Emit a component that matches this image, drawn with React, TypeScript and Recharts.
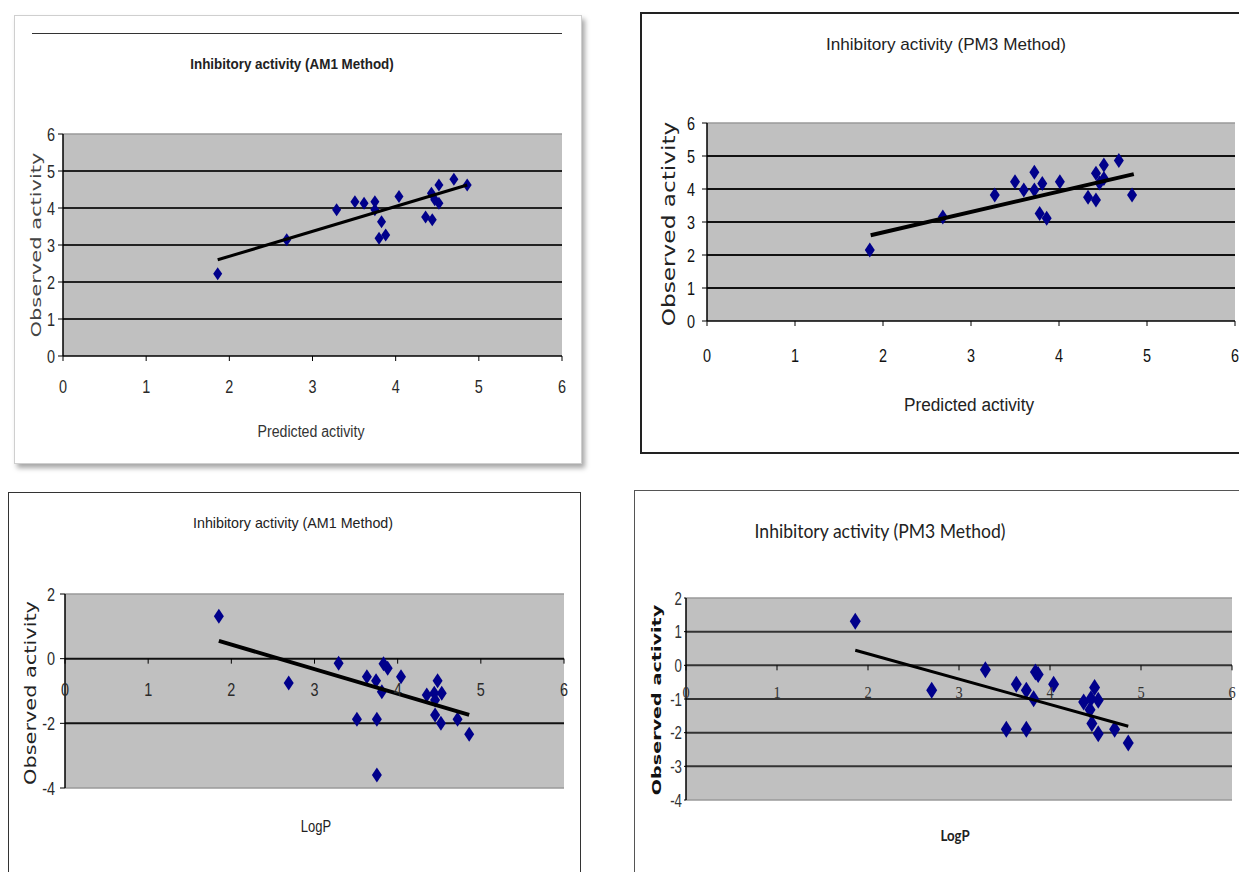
import { useLayoutEffect, useRef, useState } from "react"
import { CartesianGrid, ReferenceLine, Scatter, ScatterChart, XAxis, YAxis } from "recharts"

// AM1 method, observed vs predicted activity
const am1PredX = [1.86, 2.69, 3.29, 3.51, 3.62, 3.75, 3.75, 3.83, 3.8, 3.88, 4.04, 4.36, 4.44, 4.43, 4.47, 4.52, 4.52, 4.7, 4.86]
const am1PredY = [2.22, 3.14, 3.95, 4.17, 4.13, 4.17, 3.95, 3.63, 3.18, 3.27, 4.31, 3.76, 3.68, 4.4, 4.22, 4.13, 4.62, 4.78, 4.62]
const am1PredTrendX = [1.86, 4.86]
const am1PredTrendY = [2.6, 4.62]

// PM3 method, observed vs predicted activity
const pm3PredX = [1.85, 2.68, 3.27, 3.5, 3.6, 3.72, 3.72, 3.81, 3.78, 3.86, 4.01, 4.33, 4.42, 4.42, 4.46, 4.51, 4.51, 4.68, 4.83]
const pm3PredY = [2.15, 3.15, 3.82, 4.22, 3.97, 4.51, 3.97, 4.17, 3.26, 3.11, 4.22, 3.75, 3.67, 4.48, 4.18, 4.73, 4.32, 4.86, 3.82]
const pm3PredTrendX = [1.86, 4.85]
const pm3PredTrendY = [2.6, 4.45]

// AM1 method, observed activity vs LogP
const am1LogPX = [1.85, 2.69, 3.29, 3.83, 3.88, 3.63, 3.74, 3.81, 4.04, 4.48, 4.35, 4.44, 4.53, 4.45, 4.45, 4.52, 4.72, 4.86, 3.51, 3.75, 3.75]
const am1LogPY = [1.31, -0.75, -0.14, -0.16, -0.3, -0.56, -0.68, -1.02, -0.56, -0.68, -1.12, -1.07, -1.07, -1.28, -1.74, -2.0, -1.87, -2.34, -1.87, -1.87, -3.6]
const am1LogPTrendX = [1.85, 4.86]
const am1LogPTrendY = [0.55, -1.74]

// PM3 method, observed activity vs LogP
const pm3LogPX = [1.86, 2.7, 3.29, 3.84, 3.87, 3.63, 3.74, 3.82, 4.04, 4.49, 4.37, 4.45, 4.53, 4.44, 4.46, 4.53, 4.71, 4.86, 3.52, 3.74]
const pm3LogPY = [1.31, -0.74, -0.13, -0.2, -0.27, -0.56, -0.74, -0.99, -0.56, -0.66, -1.09, -0.99, -1.04, -1.32, -1.73, -2.03, -1.9, -2.31, -1.9, -1.9]
const pm3LogPTrendX = [1.86, 4.86]
const pm3LogPTrendY = [0.45, -1.81]

const xTicks = [0, 1, 2, 3, 4, 5, 6]
const predYTicks = [0, 1, 2, 3, 4, 5, 6]
const am1LogPYTicks = [-4, -2, 0, 2]
const pm3LogPYTicks = [-4, -3, -2, -1, 0, 1, 2]

const SANS = "'Liberation Sans', Arial, sans-serif"
const NARROW = "'Liberation Sans Narrow', 'DejaVu Sans Condensed', 'Liberation Sans', sans-serif"
const BLUE = "#00008b"
const PLOT_BG = "#c0c0c0"

const zip = (xs: number[], ys: number[]) => xs.map((x, i) => ({ x, y: ys[i] }))

function FitText({ text, cx, cy, width, size, weight = 400, family = NARROW, color = "#222", rotate = false }: any) {
  const ref = useRef<HTMLSpanElement>(null)
  const [k, setK] = useState(1)
  useLayoutEffect(() => {
    if (ref.current && ref.current.offsetWidth) setK(width / ref.current.offsetWidth)
  }, [width, text])
  return (
    <span
      ref={ref}
      style={{
        position: "absolute",
        left: cx,
        top: cy,
        whiteSpace: "nowrap",
        fontSize: size,
        fontFamily: family,
        fontWeight: weight,
        color,
        lineHeight: 1,
        transform: `translate(-50%, -50%) ${rotate ? "rotate(-90deg)" : ""} scaleX(${k})`,
        transformOrigin: "center",
      }}
    >
      {text}
    </span>
  )
}

const diamond = (w: number, h: number) => (props: any) => {
  const { cx, cy } = props
  if (cx == null || cy == null) return <g />
  return <path d={`M${cx} ${cy - h / 2}L${cx + w / 2} ${cy}L${cx} ${cy + h / 2}L${cx - w / 2} ${cy}Z`} fill={BLUE} />
}

// narrow tick text: squeeze horizontally around the anchor point
function NTick({ x, y, payload, textAnchor, side, font }: any) {
  const f = font
  return (
    <text
      transform={`translate(${x},${y}) scale(${f.sx},1)`}
      textAnchor={textAnchor}
      dy={side === "y" ? "0.355em" : "0.71em"}
      fill={f.fill}
      fontSize={f.fontSize}
      fontFamily={f.fontFamily}
    >
      {payload.value}
    </text>
  )
}

function ZeroTick({ x, y, payload, shift, gap, font }: any) {
  const z = y - shift
  return (
    <g>
      <line x1={x} x2={x} y1={z} y2={z + 5} stroke="#000" strokeWidth={1} />
      <text
        transform={`translate(${x},${z + gap}) scale(${font.sx},1)`}
        textAnchor="middle"
        dy="0.355em"
        fill={font.fill}
        fontSize={font.fontSize}
        fontFamily={font.fontFamily}
      >
        {payload.value}
      </text>
    </g>
  )
}

function ScatterPanel(p: any) {
  const yw = 50
  const mt = 10
  const mr = 12
  const xh = 50
  const pw = p.box.r - p.box.l
  const ph = p.box.b - p.box.t
  const [ylo, yhi] = p.yDomain
  const zeroShift = (ph * (0 - ylo)) / (yhi - ylo)

  return (
    <div style={{ position: "absolute", left: p.box.l - yw, top: p.box.t - mt }}>
      <ScatterChart width={pw + yw + mr} height={ph + mt + xh} margin={{ top: mt, right: mr, bottom: 0, left: 0 }}>
        <CartesianGrid
          vertical={false}
          horizontalValues={p.grid}
          stroke={p.gridColor}
          strokeWidth={2}
          fill={PLOT_BG}
          fillOpacity={1}
        />
        {p.zeroAxis ? (
          <XAxis
            type="number"
            dataKey="x"
            domain={[0, 6]}
            ticks={xTicks}
            interval={0}
            height={xh}
            axisLine={false}
            tickLine={false}
            tickSize={0}
            tickMargin={0}
            tick={(tp: any) => <ZeroTick {...tp} shift={zeroShift} gap={p.xGap} font={p.xFont} />}
          />
        ) : (
          <XAxis
            type="number"
            dataKey="x"
            domain={[0, 6]}
            ticks={xTicks}
            interval={0}
            height={xh}
            axisLine={{ stroke: "#000", strokeWidth: 1.5 }}
            tickLine={{ stroke: "#000" }}
            tickSize={5}
            tickMargin={p.xGap}
            tick={(tp: any) => <NTick {...tp} side="x" font={p.xFont} />}
          />
        )}
        <YAxis
          type="number"
          dataKey="y"
          domain={p.yDomain}
          ticks={p.yTicks}
          interval={0}
          width={yw}
          axisLine={{ stroke: "#000", strokeWidth: 1.5 }}
          tickLine={{ stroke: "#000" }}
          tickSize={p.yTickSize}
          tickMargin={p.yGap}
          tick={(tp: any) => <NTick {...tp} side="y" font={p.yFont} />}
        />
        <ReferenceLine y={yhi} stroke="#9a9a9a" strokeWidth={1.5} />
        {p.zeroAxis && <ReferenceLine y={ylo} stroke="#9a9a9a" strokeWidth={1.5} />}
        <Scatter data={p.points} shape={diamond(p.marker[0], p.marker[1])} isAnimationActive={false} />
        <Scatter
          data={p.trend}
          shape={() => <g />}
          line={{ stroke: "#000", strokeWidth: p.trendWidth }}
          isAnimationActive={false}
        />
      </ScatterChart>
    </div>
  )
}

export default function App() {
  const tickA = { fill: "#2a2a2a", fontSize: 19, fontFamily: SANS, sx: 0.76 }
  const tickB = { fill: "#111", fontSize: 19, fontFamily: SANS, sx: 0.76 }
  const tickSerif = { fill: "#333", fontSize: 16, fontFamily: "'Liberation Serif', serif", sx: 0.9 }

  return (
    <div
      style={{
        position: "absolute",
        left: 0,
        top: 0,
        width: 1239,
        height: 872,
        background: "#fff",
        overflow: "hidden",
        fontFamily: NARROW,
      }}
    >
      {/* frames */}
      <div
        style={{
          position: "absolute",
          left: 14,
          top: 15,
          width: 566,
          height: 447,
          border: "1px solid #cfcfcf",
          boxShadow: "3px 4px 5px rgba(0,0,0,0.35)",
          background: "#fff",
        }}
      />
      <div style={{ position: "absolute", left: 32, top: 33, width: 530, height: 1, background: "#333" }} />
      <div style={{ position: "absolute", left: 640, top: 12, width: 640, height: 438, border: "2px solid #222" }} />
      <div style={{ position: "absolute", left: 8, top: 492, width: 571, height: 420, border: "1.5px solid #333" }} />
      <div style={{ position: "absolute", left: 634, top: 490, width: 640, height: 420, border: "1px solid #555" }} />

      {/* top-left: AM1 predicted */}
      <ScatterPanel
        box={{ l: 63, t: 134, r: 562, b: 356 }}
        yDomain={[0, 6]}
        yTicks={predYTicks}
        grid={[1, 2, 3, 4, 5]}
        gridColor="#222"
        points={zip(am1PredX, am1PredY)}
        trend={zip(am1PredTrendX, am1PredTrendY)}
        marker={[9, 13]}
        trendWidth={3}
        xFont={tickA}
        yFont={tickA}
        xGap={19}
        yGap={3}
        yTickSize={5}
      />
      <FitText text="Inhibitory activity (AM1 Method)" cx={292} cy={63} width={204} size={15} weight={700} family={SANS} />
      <FitText text="Predicted activity" cx={311} cy={432} width={107} size={16} color="#333" family={SANS} />
      <FitText text="Observed activity" cx={36} cy={245} width={185} size={14} color="#444" rotate />

      {/* top-right: PM3 predicted */}
      <ScatterPanel
        box={{ l: 707, t: 123, r: 1235, b: 321 }}
        yDomain={[0, 6]}
        yTicks={predYTicks}
        grid={[1, 2, 3, 4, 5]}
        gridColor="#111"
        points={zip(pm3PredX, pm3PredY)}
        trend={zip(pm3PredTrendX, pm3PredTrendY)}
        marker={[10, 15]}
        trendWidth={4}
        xFont={tickB}
        yFont={tickB}
        xGap={23}
        yGap={7}
        yTickSize={5}
      />
      <FitText text="Inhibitory activity (PM3 Method)" cx={946} cy={44} width={240} size={17} family={SANS} />
      <FitText text="Predicted activity" cx={969} cy={405} width={130} size={18} family={SANS} />
      <FitText text="Observed activity" cx={669} cy={224} width={205} size={17} rotate />

      {/* bottom-left: AM1 LogP */}
      <ScatterPanel
        box={{ l: 65, t: 594, r: 564, b: 788 }}
        yDomain={[-4, 2]}
        yTicks={am1LogPYTicks}
        grid={[0, -2]}
        gridColor="#111"
        zeroAxis
        points={zip(am1LogPX, am1LogPY)}
        trend={zip(am1LogPTrendX, am1LogPTrendY)}
        marker={[10, 15]}
        trendWidth={4}
        xFont={tickA}
        yFont={tickA}
        xGap={31}
        yGap={5}
        yTickSize={5}
      />
      <FitText text="Inhibitory activity (AM1 Method)" cx={293} cy={522} width={200} size={15} family={SANS} />
      <FitText text="LogP" cx={316} cy={827} width={30} size={16} family={SANS} />
      <FitText text="Observed activity" cx={31} cy={693} width={184} size={15} rotate />

      {/* bottom-right: PM3 LogP */}
      <ScatterPanel
        box={{ l: 686, t: 598, r: 1232, b: 800 }}
        yDomain={[-4, 2]}
        yTicks={pm3LogPYTicks}
        grid={[1, 0, -1, -2, -3]}
        gridColor="#333"
        zeroAxis
        points={zip(pm3LogPX, pm3LogPY)}
        trend={zip(pm3LogPTrendX, pm3LogPTrendY)}
        marker={[11, 17]}
        trendWidth={3}
        xFont={tickSerif}
        yFont={{ fill: "#333", fontSize: 19, fontFamily: SANS, sx: 0.7 }}
        xGap={27}
        yGap={2}
        yTickSize={2}
      />
      <FitText text="Inhibitory activity (PM3 Method)" cx={880} cy={530} width={251} size={20} family="Lato, 'Open Sans', sans-serif" />
      <FitText text="LogP" cx={955} cy={835} width={29} size={16} weight={700} family="Lato, sans-serif" />
      <FitText
        text="Observed activity"
        cx={657}
        cy={700}
        width={190}
        size={12}
        weight={700}
        family="'DejaVu Sans', sans-serif"
        color="#111"
        rotate
      />
    </div>
  )
}
